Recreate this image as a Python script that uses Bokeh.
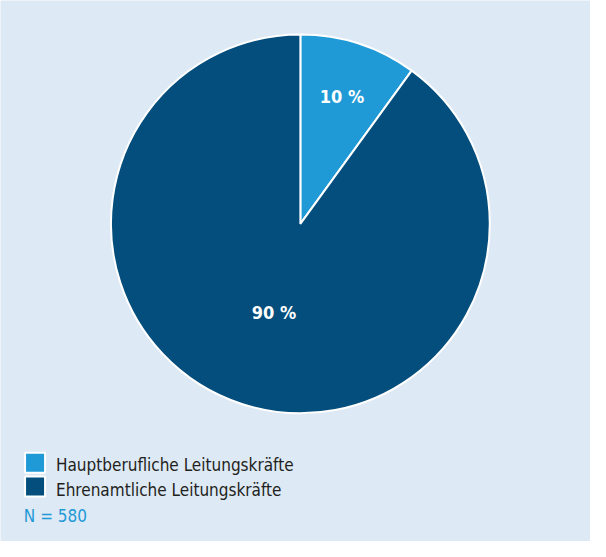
import math
from bokeh.plotting import figure
from bokeh.models import ColumnDataSource
from bokeh.core.properties import value
from bokeh.embed import file_html
from bokeh.resources import INLINE

# ---- data ----
categories = ["Hauptberufliche Leitungskräfte", "Ehrenamtliche Leitungskräfte"]
shares = [10, 90]
labels = ["10 %", "90 %"]
colors = ["#1f9ad6", "#034e7c"]
note = "N = 580"

BG = "#dde9f5"
W, H = 590, 541
SX, SY = W / 606, H / 557
FONT = "DejaVu Sans Condensed, Roboto, sans-serif"

p = figure(width=W, height=H, x_range=(0, W), y_range=(0, H),
           output_backend="svg", toolbar_location=None,
           background_fill_color=BG, border_fill_color=BG,
           min_border=0, outline_line_color=None)
p.axis.visible = False
p.grid.visible = False

def Y(page_y):
    return H - page_y * SY

def X(page_x):
    return page_x * SX

cx, cy, R = X(308), Y(230), 195 * SY

# wedges: start at 12 o'clock, going clockwise
total = sum(shares)
starts, ends = [], []
acc = 0.0
for s in shares:
    a0 = math.pi / 2 - 2 * math.pi * acc / total
    a1 = math.pi / 2 - 2 * math.pi * (acc + s) / total
    starts.append(a1)
    ends.append(a0)
    acc += s

src = ColumnDataSource(dict(start=starts, end=ends, color=colors))
p.wedge(x=cx, y=cy, radius=R, start_angle="start", end_angle="end",
        fill_color="color", line_color="white", line_width=2, source=src)

# slice labels
label_r = [0.71, 0.49]
lx, ly = [], []
for i, (a0, a1) in enumerate(zip(starts, ends)):
    mid = (a0 + a1) / 2
    if i == 1:
        mid += math.radians(1.5)
    lx.append(cx + label_r[i] * R * math.cos(mid))
    ly.append(cy + label_r[i] * R * math.sin(mid))
p.text(x=lx, y=ly, text=labels, text_color="white",
       text_font=value(FONT), text_font_style="bold",
       text_font_size="18px", text_align="center", text_baseline="middle")

# legend
sq_y = [Y(476), Y(500.5)]
p.rect(x=[X(35.5)] * 2, y=sq_y, width=20, height=20, fill_color=colors,
       line_color="white", line_width=2)
p.text(x=[X(57)] * 2, y=[Y(478.5), Y(503.5)], text=categories,
       text_color="#231f20", text_font=value(FONT),
       text_font_size="17px", text_align="left", text_baseline="middle")
p.text(x=[X(24)], y=[Y(531)], text=[note], text_color="#1f9ad6",
       text_font=value(FONT), text_font_size="17px",
       text_align="left", text_baseline="middle")

open("out.html", "w").write(file_html(p, INLINE))
